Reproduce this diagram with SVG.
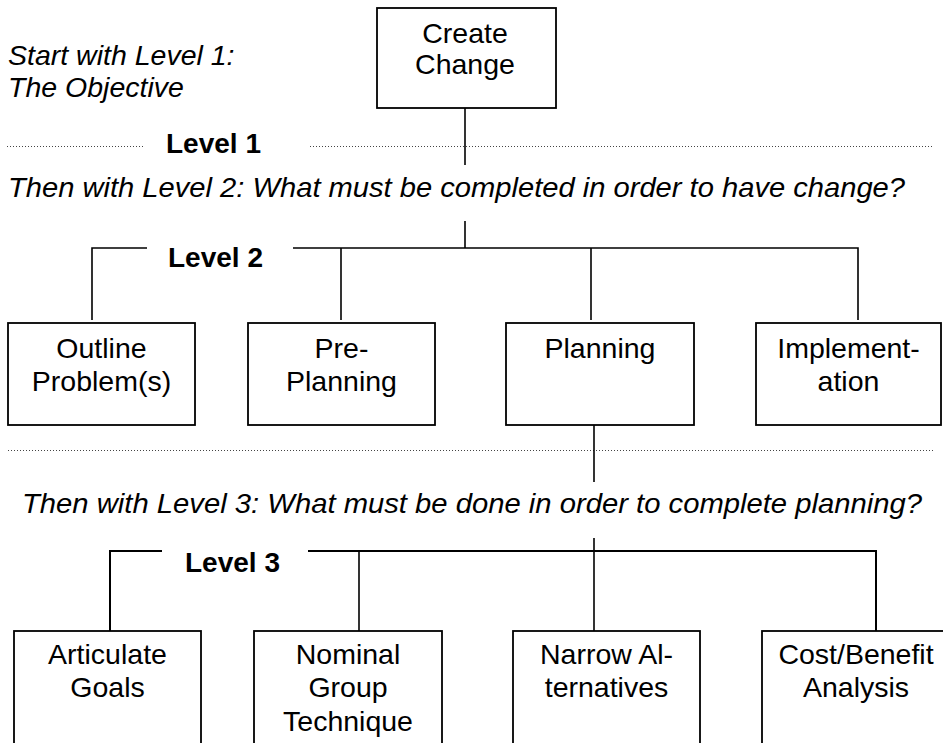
<svg xmlns="http://www.w3.org/2000/svg" width="943" height="743" viewBox="0 0 943 743">
  <style>
    text { font-family: "Liberation Sans", Arial, sans-serif; font-size: 28.5px; fill: #000; }
    .it { font-style: italic; }
    .bold { font-weight: bold; font-size: 28px; }
    .mid { text-anchor: middle; }
    .box { fill: #fff; stroke: #000; stroke-width: 1.8; }
    .wire { fill: none; stroke: #000; stroke-width: 1.6; }
    .dots { fill: none; stroke: #444; stroke-width: 1; stroke-dasharray: 1 2; }
  </style>

  <rect width="943" height="743" fill="#fff"/>

  <!-- level separators -->
  <g id="separators">
    <line class="dots" x1="7" y1="146.5" x2="143" y2="146.5"/>
    <line class="dots" x1="310" y1="146.5" x2="932" y2="146.5"/>
    <line class="dots" x1="8" y1="450.5" x2="935" y2="450.5"/>
  </g>

  <!-- captions -->
  <g id="captions">
    <text class="it" x="8" y="65">Start with Level 1:</text>
    <text class="it" x="8" y="97">The Objective</text>
    <text class="bold" x="166" y="153">Level 1</text>
    <text class="it" x="8" y="197" textLength="897" lengthAdjust="spacingAndGlyphs">Then with Level 2: What must be completed in order to have change?</text>
    <text class="bold" x="168" y="267">Level 2</text>
    <text class="it" x="22" y="513" textLength="900" lengthAdjust="spacingAndGlyphs">Then with Level 3: What must be done in order to complete planning?</text>
    <text class="bold" x="185" y="572">Level 3</text>
  </g>

  <!-- connectors -->
  <g id="connectors">
    <line class="wire" x1="465" y1="108" x2="465" y2="165"/>
    <line class="wire" x1="465" y1="221" x2="465" y2="248"/>
    <polyline class="wire" points="92,320 92,248 147,248"/>
    <polyline class="wire" points="293,248 858,248 858,320"/>
    <line class="wire" x1="341" y1="248" x2="341" y2="320"/>
    <line class="wire" x1="591" y1="248" x2="591" y2="320"/>
    <line class="wire" x1="594" y1="425" x2="594" y2="482"/>
    <line class="wire" x1="594" y1="538" x2="594" y2="551"/>
    <polyline class="wire" points="110,631 110,551 162,551" style="stroke-width:2"/>
    <polyline class="wire" points="308,551 876,551 876,631" style="stroke-width:2"/>
    <line class="wire" x1="359" y1="551" x2="359" y2="631"/>
    <line class="wire" x1="594" y1="551" x2="594" y2="631"/>
  </g>

  <!-- level 1 -->
  <g id="create-change">
    <rect class="box" x="377" y="8" width="179" height="100"/>
    <text class="mid" x="465" y="43">Create</text>
    <text class="mid" x="465" y="74">Change</text>
  </g>

  <!-- level 2 -->
  <g id="outline-problems">
    <rect class="box" x="8" y="323" width="187" height="102"/>
    <text class="mid" x="101.5" y="358">Outline</text>
    <text class="mid" x="101.5" y="391">Problem(s)</text>
  </g>
  <g id="pre-planning">
    <rect class="box" x="248" y="323" width="187" height="102"/>
    <text class="mid" x="341.5" y="358">Pre-</text>
    <text class="mid" x="341.5" y="391">Planning</text>
  </g>
  <g id="planning">
    <rect class="box" x="506" y="323" width="188" height="102"/>
    <text class="mid" x="600" y="358">Planning</text>
  </g>
  <g id="implementation">
    <rect class="box" x="756" y="323" width="185" height="102"/>
    <text class="mid" x="848.5" y="358">Implement-</text>
    <text class="mid" x="848.5" y="391">ation</text>
  </g>

  <!-- level 3 -->
  <g id="articulate-goals">
    <rect class="box" x="14" y="631" width="187" height="130"/>
    <text class="mid" x="107.5" y="664">Articulate</text>
    <text class="mid" x="107.5" y="697">Goals</text>
  </g>
  <g id="nominal-group">
    <rect class="box" x="254" y="631" width="188" height="130"/>
    <text class="mid" x="348" y="664">Nominal</text>
    <text class="mid" x="348" y="697">Group</text>
    <text class="mid" x="348" y="731">Technique</text>
  </g>
  <g id="narrow-alternatives">
    <rect class="box" x="513" y="631" width="187" height="130"/>
    <text class="mid" x="606.5" y="664">Narrow Al-</text>
    <text class="mid" x="606.5" y="697">ternatives</text>
  </g>
  <g id="cost-benefit">
    <rect class="box" x="762" y="631" width="188" height="130"/>
    <text class="mid" x="856" y="664">Cost/Benefit</text>
    <text class="mid" x="856" y="697">Analysis</text>
  </g>
</svg>
